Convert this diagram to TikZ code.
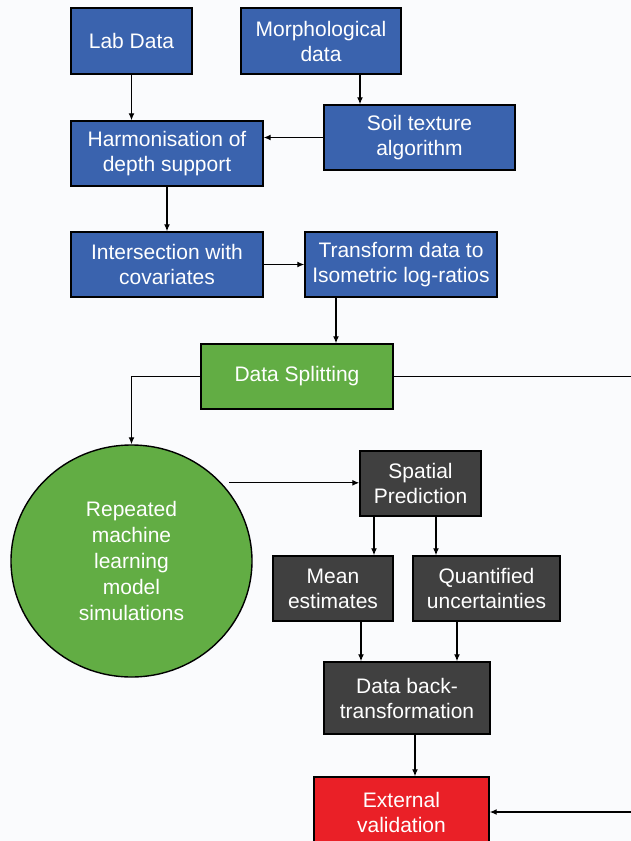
\documentclass[tikz,border=0pt]{standalone}
\usepackage{fontspec}
\setmainfont{Liberation Sans}
\usetikzlibrary{arrows.meta,shapes.geometric}
\definecolor{boxblue}{RGB}{58,99,174}
\definecolor{boxgreen}{RGB}{98,173,68}
\definecolor{boxgrey}{RGB}{64,64,64}
\definecolor{boxred}{RGB}{234,32,39}
\definecolor{paper}{RGB}{250,251,253}

\begin{document}
\begin{tikzpicture}[x=1pt,y=-1pt]

\tikzset{Box/.style={draw=black,line width=1.4pt,text=white,align=center,inner sep=0pt,
    minimum height=65pt,font=\fontsize{21}{25}\selectfont},
  BlueBox/.style={Box,fill=boxblue},
  GreenBox/.style={Box,fill=boxgreen},
  GreyBox/.style={Box,fill=boxgrey},
  RedBox/.style={Box,fill=boxred},
  Link/.style={-{Latex[length=7pt,width=6pt]},line width=1.3pt}}

  \useasboundingbox[fill=paper] (0,0) rectangle (631,841);

  \node[BlueBox,minimum width=121pt,minimum height=66pt] (lab) at (131.5,41) {Lab Data};
  \node[BlueBox,minimum width=160pt,minimum height=66pt] (morph) at (321,41) {Morphological\\data};
  \node[BlueBox,minimum width=191pt] (soil) at (419.5,137.5) {Soil texture\\algorithm};
  \node[BlueBox,minimum width=192pt] (harm) at (167,153.5) {Harmonisation of\\depth support};
  \node[BlueBox,minimum width=192pt] (inter) at (167,264.5) {Intersection with\\covariates};
  \node[BlueBox,minimum width=192pt] (trans) at (401,264.5) {Transform data to\\Isometric log-ratios};

  \node[GreenBox,minimum width=192pt] (split) at (297,376.5) {Data Splitting};
  \node[GreenBox,ellipse,minimum width=241pt,minimum height=232pt,font=\fontsize{21}{26}\selectfont]
    (sim) at (131.5,561) {Repeated\\machine\\learning\\model\\simulations};

  \node[GreyBox,minimum width=121pt] (sp) at (420.5,483.5) {Spatial\\Prediction};
  \node[GreyBox,minimum width=120pt] (mean) at (333,588.5) {Mean\\estimates};
  \node[GreyBox,minimum width=147pt] (quant) at (486.5,588.5) {Quantified\\uncertainties};
  \node[GreyBox,minimum width=166pt,minimum height=72pt] (back) at (407,698) {Data back-\\transformation};

  \node[RedBox,minimum width=175pt,minimum height=70pt] (ext) at (401.5,812) {External\\validation};

  \coordinate (rt) at (640,0);

  \draw[Link] (lab) -- (harm.north -| lab);
  \draw[Link] ([xshift=39pt]morph.south) -- ([xshift=39pt]morph.south |- soil.north);
  \draw[Link] (soil.west) -- (soil.west -| harm.east);
  \draw[Link] (harm) -- (inter);
  \draw[Link] (inter) -- (trans);
  \draw[Link] ([xshift=-65pt]trans.south) -- ([xshift=-65pt]trans.south |- split.north);
  \draw[Link] (split.west) -| (sim.north);
  \draw[line width=1.3pt] (split.east) -- (split.east -| rt);
  \draw[Link,shorten <=8pt] (sim.41) -- (sim.41 -| sp.west);
  \draw[Link] ([xshift=-46.5pt]sp.south) -- ([xshift=-46.5pt]sp.south |- mean.north);
  \draw[Link] ([xshift=15.5pt]sp.south) -- ([xshift=15.5pt]sp.south |- quant.north);
  \draw[Link] ([xshift=28pt]mean.south) -- ([xshift=28pt]mean.south |- back.north);
  \draw[Link] ([xshift=-29.5pt]quant.south) -- ([xshift=-29.5pt]quant.south |- back.north);
  \draw[Link] ([xshift=8pt]back.south) -- ([xshift=8pt]back.south |- ext.north);
  \draw[Link] (rt |- ext.east) -- (ext.east);

\end{tikzpicture}
\end{document}
